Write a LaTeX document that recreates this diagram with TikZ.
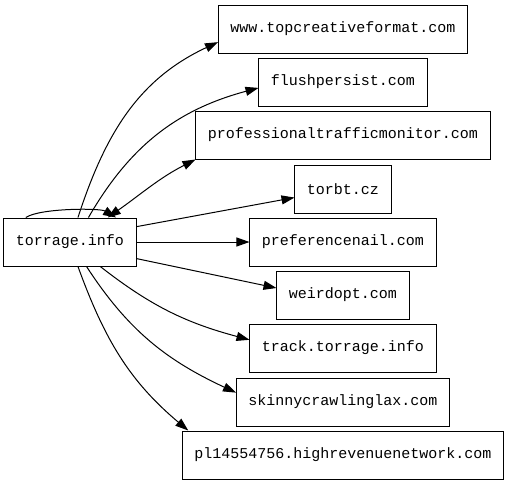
\documentclass[tikz,border=0pt]{standalone}
\usepackage{fontspec}
\setmonofont{Liberation Mono}
\usetikzlibrary{arrows.meta}

\begin{document}
\begin{tikzpicture}[x=1pt, y=1pt, line width=1pt,
  site/.style={draw, rectangle, minimum height=48pt, inner xsep=12pt,
    font=\ttfamily\fontsize{15}{17}\selectfont},
  link/.style={-{Triangle[length=13pt, width=9pt]}},
  twolink/.style={{Triangle[length=13pt, width=9pt]}-{Triangle[length=13pt, width=9pt]}}]
  \useasboundingbox (0,0) rectangle (508,-485);

  \node[site] (T) at (70,-242) {torrage.info};
  \node[site] (W) at (343,-29) {www.topcreativeformat.com};
  \node[site] (F) at (343,-82) {flushpersist.com};
  \node[site] (P) at (343,-135) {professionaltrafficmonitor.com};
  \node[site] (Z) at (343,-189) {torbt.cz};
  \node[site] (N) at (343,-242) {preferencenail.com};
  \node[site] (D) at (343,-295) {weirdopt.com};
  \node[site] (K) at (343,-348) {track.torrage.info};
  \node[site] (S) at (343,-402) {skinnycrawlinglax.com};
  \node[site] (H) at (343,-455) {pl14554756.highrevenuenetwork.com};

  % torrage.info naar zichzelf
  \draw[link] (T.151) .. controls (40,-208) and (100,-208) .. (T.28);

  \draw[link] (T.72) to[out=72, in=205] (W.186);
  \draw[link] (T.53) to[out=60, in=195] (F.184);
  \draw[twolink] (T.33) to[out=35, in=207] (P.south west);
  \draw[link] (T.13) -- (Z.190);
  \draw[link] (T.east) -- (N.west);
  \draw[link] (T.-14) -- (D.174);
  \draw[link] (T.-39) to[out=-38, in=165] (K.175);
  \draw[link] (T.-56) to[out=-57, in=155] (S.175);
  \draw[link] (T.-72) to[out=-70, in=140] (H.171);
\end{tikzpicture}
\end{document}
